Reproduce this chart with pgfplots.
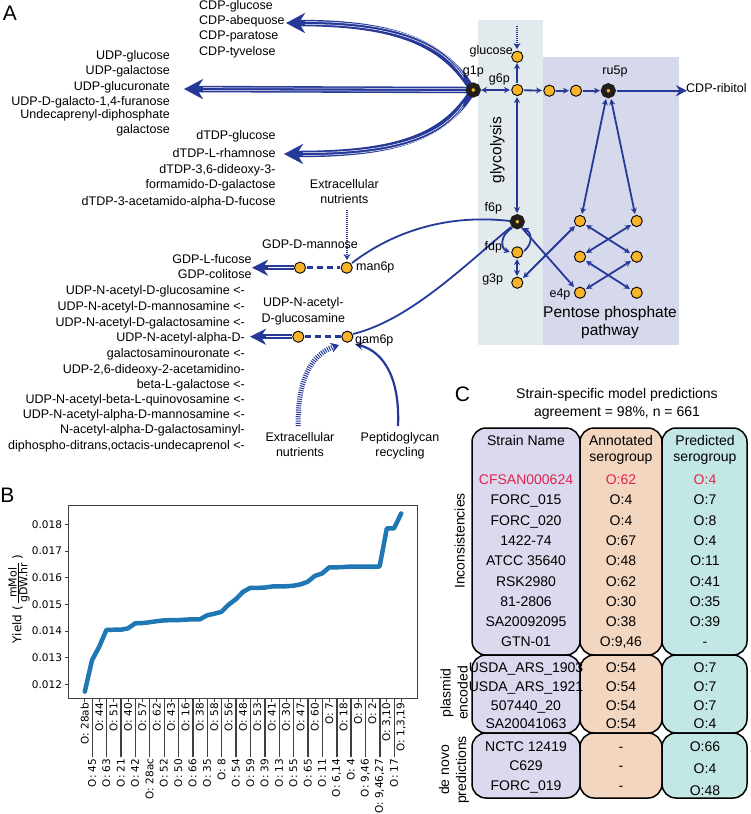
\documentclass[border=0pt]{standalone}
\usepackage{fontspec}
\setmainfont{Liberation Sans}
\newfontfamily\dv{DejaVu Sans}
\usepackage{pgfplots}
\pgfplotsset{compat=1.18}
\usetikzlibrary{arrows.meta}
\definecolor{ab}{RGB}{38,57,153}
\definecolor{ny}{RGB}{248,180,40}
\definecolor{ring}{RGB}{35,30,30}
\definecolor{glybg}{RGB}{227,234,238}
\definecolor{pppbg}{RGB}{214,216,236}
\definecolor{cs}{RGB}{218,217,238}
\definecolor{ca}{RGB}{243,214,191}
\definecolor{cp}{RGB}{195,231,229}
\definecolor{cred}{RGB}{224,36,78}
\definecolor{mplblue}{RGB}{31,119,180}
\newcommand{\fs}[1]{\fontsize{#1}{#1}\selectfont}
\begin{document}
\begin{tikzpicture}[
  sm/.style={ab, line width=1.8pt, -{Stealth[length=6pt,width=6pt]}},
  smd/.style={ab, line width=1.8pt, {Stealth[length=6pt,width=6pt]}-{Stealth[length=6pt,width=6pt]}},
  band/.style={ab, line width=6.5pt, -{Stealth[length=19pt,width=20pt]}},
  bandw/.style={white, line width=0.5pt, shorten >=19pt},
  t/.style={font=\fs{12.5}, inner sep=0pt, text height=9pt, text depth=2.6pt},
  tc/.style={font=\fs{14}, inner sep=0pt, text height=10pt, text depth=3pt},
]
\path[use as bounding box] (0,0) rectangle (750pt,-814pt);
\begin{axis}[at={(0pt,-814pt)}, anchor=south west, width=750pt, height=814pt, scale only axis,
  xmin=0, xmax=750, ymin=0, ymax=814, y dir=reverse, hide axis, clip=false]
% backgrounds
\fill[glybg] (478,20) rectangle (543,345);
\fill[pppbg] (543,57) rectangle (679,345);
% big bands
\draw[band] (470,86) .. controls (440,40) and (390,23) .. (286,23);
\draw[bandw, shorten <=12pt, yshift=1.4pt] (470,86) .. controls (440,40) and (390,23) .. (286,23);
\draw[bandw, shorten <=12pt, yshift=-1.4pt] (470,86) .. controls (440,40) and (390,23) .. (286,23);
\draw[band] (467,90) -- (184,89);
\draw[bandw, yshift=1.4pt] (467,90) -- (184,89);
\draw[bandw, yshift=-1.4pt] (467,90) -- (184,89);
\draw[band] (470,95) .. controls (440,140) and (390,154) .. (284,154);
\draw[bandw, shorten <=12pt, yshift=1.4pt] (470,95) .. controls (440,140) and (390,154) .. (284,154);
\draw[bandw, shorten <=12pt, yshift=-1.4pt] (470,95) .. controls (440,140) and (390,154) .. (284,154);
\draw[ab, line width=5pt, -{Stealth[length=16pt,width=16pt]}] (294,267.7) -- (252,267.7);
\draw[white, line width=0.5pt, shorten >=16pt] (294,267.7) -- (252,267.7);
\draw[ab, line width=5pt, -{Stealth[length=16pt,width=16pt]}] (292,336.7) -- (250,336.7);
\draw[white, line width=0.5pt, shorten >=16pt] (292,336.7) -- (250,336.7);
% small arrows
\draw[smd] (481,90) -- (510,90);
\draw[sm] (517,83) -- (517,63);
\draw[ab, line width=2.5pt, dash pattern=on 1pt off 1pt, -{Stealth[length=6pt,width=7pt]}] (517,26) -- (517,49);
\draw[sm] (524,90.3) -- (542,90.5);
\draw[sm] (556,90.7) -- (569,90.7);
\draw[sm] (583,90.7) -- (600,90.7);
\draw[ab, line width=2pt, -{Stealth[length=11pt,width=11pt]}] (617,90.7) -- (687,90.7);
\draw[smd] (517,97) -- (517,213);
\draw[sm] (512,228) .. controls (499,236) and (501,249) .. (510,252);
\draw[sm] (524,251) .. controls (533,244) and (532,233) .. (523,228);
\draw[smd] (517,259) -- (517,276);
\draw[smd] (575,226) -- (523,278);
\draw[sm] (522,228) -- (574,287);
\draw[smd] (606,99) -- (582,214);
\draw[smd] (611,99) -- (635,214);
\draw[smd] (586,225) -- (630,253);
\draw[smd] (631,225) -- (586,253);
\draw[smd] (586,261) -- (630,289);
\draw[smd] (631,261) -- (586,289);
\draw[ab, line width=1.8pt] (510,221) .. controls (450,214) and (395,230) .. (352,263);
\draw[ab, line width=1.8pt] (511,227) .. controls (465,265) and (410,320) .. (353,334);
\draw[ab, line width=2.5pt, dash pattern=on 6pt off 4pt] (307,267.7) -- (340,267.7);
\draw[ab, line width=2.5pt, dash pattern=on 6pt off 4pt] (305,336.7) -- (341,336.7);
\draw[ab, line width=2.5pt, dash pattern=on 1pt off 1pt, -{Stealth[length=6pt,width=7pt]}] (347,210) -- (347,260);
\draw[ab, line width=5pt, dash pattern=on 1pt off 1.2pt, -{Stealth[length=8pt,width=10pt]}] (298,426) .. controls (298,380) and (310,355) .. (339,345);
\draw[ab, line width=2.2pt, -{Stealth[length=8pt,width=8pt]}] (398,426) .. controls (400,380) and (385,352) .. (355,344);
% nodes
\addplot[only marks, mark=*, mark size=5.6pt, mark options={fill=ny, draw=black, line width=0.9pt}] coordinates {
(517.3,56.7) (517.3,90) (549.3,90.7) (576,90.7) (517.3,252.3) (517.3,282.7)
(580,221) (636.7,221) (580,256.7) (636.7,256.7) (580,292.7) (636.7,292.7)
(346.7,267.7) (300,267.7) (347.3,336.7) (298.3,336.7)};
\addplot[only marks, mark=*, mark size=4.8pt, mark options={fill=ny, draw=ring, line width=5.4pt}] coordinates {
(473.3,90) (608.3,90.7) (517.3,221.7)};
% labels A
\node[font=\fs{21}, inner sep=0pt] at (10,13) {A};
\node[font=\fs{21}, inner sep=0pt] at (7.5,495) {B};
\node[font=\fs{21}, inner sep=0pt] at (462.5,394) {C};
\node[t, anchor=west] at (199,6) {CDP-glucose};
\node[t, anchor=west] at (199,21.3) {CDP-abequose};
\node[t, anchor=west] at (199,36.7) {CDP-paratose};
\node[t, anchor=west] at (199,52) {CDP-tyvelose};
\node[t, anchor=east] at (170,56.7) {UDP-glucose};
\node[t, anchor=east] at (170,71.7) {UDP-galactose};
\node[t, anchor=east] at (170,87.3) {UDP-glucuronate};
\node[t, anchor=east] at (170,102.7) {UDP-D-galacto-1,4-furanose};
\node[t, anchor=east] at (170,115) {Undecaprenyl-diphosphate};
\node[t, anchor=east] at (170,130) {galactose};
\node[t, anchor=east] at (275.7,136.7) {dTDP-glucose};
\node[t, anchor=east] at (275.7,154) {dTDP-L-rhamnose};
\node[t, anchor=east] at (275.7,170) {dTDP-3,6-dideoxy-3-};
\node[t, anchor=east] at (275.7,185.7) {formamido-D-galactose};
\node[t, anchor=east] at (275.7,202.3) {dTDP-3-acetamido-alpha-D-fucose};
\node[t, anchor=east] at (251.7,260) {GDP-L-fucose};
\node[t, anchor=east] at (251.7,275) {GDP-colitose};
\node[t, anchor=east] at (245,291.7) {UDP-N-acetyl-D-glucosamine <-};
\node[t, anchor=east] at (245,307.7) {UDP-N-acetyl-D-mannosamine <-};
\node[t, anchor=east] at (245,323.3) {UDP-N-acetyl-D-galactosamine <-};
\node[t, anchor=east] at (245,338.3) {UDP-N-acetyl-alpha-D-};
\node[t, anchor=east] at (245,354) {galactosaminouronate <-};
\node[t, anchor=east] at (245,370) {UDP-2,6-dideoxy-2-acetamidino-};
\node[t, anchor=east] at (245,385) {beta-L-galactose <-};
\node[t, anchor=east] at (245,400.7) {UDP-N-acetyl-beta-L-quinovosamine <-};
\node[t, anchor=east] at (245,415.7) {UDP-N-acetyl-alpha-D-mannosamine <-};
\node[t, anchor=east] at (245,430.7) {N-acetyl-alpha-D-galactosaminyl-};
\node[t, anchor=east] at (245,446.7) {diphospho-ditrans,octacis-undecaprenol <-};
\node[t, anchor=east] at (513,51.7) {glucose};
\node[t] at (473.3,71.7) {g1p};
\node[t] at (499.3,79) {g6p};
\node[t] at (615,71) {ru5p};
\node[t, anchor=west] at (686,89.3) {CDP-ribitol};
\node[font=\fs{15.5}, inner sep=0pt, rotate=90] at (497.3,150) {glycolysis};
\node[t] at (493.3,208.3) {f6p};
\node[t] at (493.3,247.3) {fdp};
\node[t] at (492.7,279.3) {g3p};
\node[t] at (560,294) {e4p};
\node[font=\fs{15.5}, inner sep=0pt] at (610,313.3) {Pentose phosphate};
\node[font=\fs{15.5}, inner sep=0pt] at (610,331.7) {pathway};
\node[t] at (344.3,185) {Extracellular};
\node[t] at (344.3,200.7) {nutrients};
\node[t] at (310,245) {GDP-D-mannose};
\node[t, anchor=west] at (356,267.7) {man6p};
\node[t] at (303.3,303.3) {UDP-N-acetyl-};
\node[t] at (303.3,319) {D-glucosamine};
\node[t, anchor=west] at (355,340.7) {gam6p};
\node[t] at (300,438.3) {Extracellular};
\node[t] at (300,453.3) {nutrients};
\node[t] at (400,438.3) {Peptidoglycan};
\node[t] at (400,453.3) {recycling};
% panel B ylabel
\node[rotate=90, inner sep=0pt, font=\dv\fs{12}] at (19,599) {Yield (\,$\frac{\mbox{\dv\fs{11}mMol}}{\mbox{\dv\fs{11}gDW.hr}}$\,)};
% panel B long tick lines (pixel coords of reference)
\pgfplotsinvokeforeach{1,3,...,43}{\draw[black!75, line width=0.8pt] (85+7.2*#1,698) -- (85+7.2*#1,757);}
% panel C
\node[tc] at (617,395) {Strain-specific model predictions};
\node[tc] at (617,413) {agreement = 98\%, n = 661};
\draw[fill=cs, line width=1.5pt, rounded corners=14pt] (472,428) rectangle (580,655);
\draw[fill=ca, line width=1.5pt, rounded corners=14pt] (580,428) rectangle (662,655);
\draw[fill=cp, line width=1.5pt, rounded corners=14pt] (662,428) rectangle (747,655);
\draw[fill=cs, line width=1.5pt, rounded corners=14pt] (472,655) rectangle (580,733);
\draw[fill=ca, line width=1.5pt, rounded corners=14pt] (580,655) rectangle (662,733);
\draw[fill=cp, line width=1.5pt, rounded corners=14pt] (662,655) rectangle (747,733);
\draw[fill=cs, line width=1.5pt, rounded corners=14pt] (472,733) rectangle (580,798);
\draw[fill=ca, line width=1.5pt, rounded corners=14pt] (580,733) rectangle (662,798);
\draw[fill=cp, line width=1.5pt, rounded corners=14pt] (662,733) rectangle (747,798);
\node[tc, rotate=90] at (461,541) {Inconsistencies};
\node[font=\fs{14}, inner sep=0pt, rotate=90, align=center] at (454,693) {plasmid\\[3pt]encoded};
\node[font=\fs{14}, inner sep=0pt, rotate=90, align=center] at (454,770) {de novo\\[3pt]predictions};
\node[tc] at (526,441.7) {Strain Name};
\node[tc] at (621,441.7) {Annotated};
\node[tc] at (621,458) {serogroup};
\node[tc] at (705,441.7) {Predicted};
\node[tc] at (705,458) {serogroup};
\node[tc, text=cred] at (526,481) {CFSAN000624};
\node[tc, text=cred] at (621,481) {O:62};
\node[tc, text=cred] at (705,481) {O:4};
\node[tc] at (526,501.3) {FORC\_015};
\node[tc] at (621,501.3) {O:4};
\node[tc] at (705,501.3) {O:7};
\node[tc] at (526,521.6) {FORC\_020};
\node[tc] at (621,521.6) {O:4};
\node[tc] at (705,521.6) {O:8};
\node[tc] at (526,541.9) {1422-74};
\node[tc] at (621,541.9) {O:67};
\node[tc] at (705,541.9) {O:4};
\node[tc] at (526,562.2) {ATCC 35640};
\node[tc] at (621,562.2) {O:48};
\node[tc] at (705,562.2) {O:11};
\node[tc] at (526,582.5) {RSK2980};
\node[tc] at (621,582.5) {O:62};
\node[tc] at (705,582.5) {O:41};
\node[tc] at (526,602.8) {81-2806};
\node[tc] at (621,602.8) {O:30};
\node[tc] at (705,602.8) {O:35};
\node[tc] at (526,623.1) {SA20092095};
\node[tc] at (621,623.1) {O:38};
\node[tc] at (705,623.1) {O:39};
\node[tc] at (526,643.4) {GTN-01};
\node[tc] at (621,643.4) {O:9,46};
\node[tc] at (705,643.4) {-};
\node[tc] at (526,669) {USDA\_ARS\_1903};
\node[tc] at (621,669) {O:54};
\node[tc] at (705,669) {O:7};
\node[tc] at (526,688) {USDA\_ARS\_1921};
\node[tc] at (621,688) {O:54};
\node[tc] at (705,688) {O:7};
\node[tc] at (526,706.7) {507440\_20};
\node[tc] at (621,706.7) {O:54};
\node[tc] at (705,706.7) {O:7};
\node[tc] at (526,725) {SA20041063};
\node[tc] at (621,725) {O:54};
\node[tc] at (705,725) {O:4};
\node[tc] at (526,748) {NCTC 12419};
\node[tc] at (621,748) {-};
\node[tc] at (705,748) {O:66};
\node[tc] at (526,766.7) {C629};
\node[tc] at (621,766.7) {-};
\node[tc] at (705,770) {O:4};
\node[tc] at (526,786.7) {FORC\_019};
\node[tc] at (621,786.7) {-};
\node[tc] at (705,791.7) {O:48};
\end{axis}
% panel B
\begin{axis}[at={(69pt,-698pt)}, anchor=south west, width=348pt, height=192.3pt, scale only axis,
  xmin=-2.2, xmax=46.2, ymin=0.01149, ymax=0.0187,
  axis line style={draw=black!75, line width=1pt},
  tick align=outside, tick pos=left, major tick length=3.5pt,
  every tick/.style={black!75, line width=0.8pt},
  ytick={0.012,0.013,0.014,0.015,0.016,0.017,0.018},
  scaled y ticks=false,
  /pgf/number format/assume math mode=true,
  yticklabel style={/pgf/number format/.cd, fixed, fixed zerofill, precision=3, /tikz/.cd, font=\dv\fs{10.5}},
  xtick={0,2,...,44},
  xticklabels={{O: 28ab},{O: 44},{O: 51},{O: 40},{O: 57},{O: 62},{O: 43},{O: 16},{O: 38},{O: 58},{O: 56},{O: 48},{O: 53},{O: 41},{O: 30},{O: 47},{O: 60},{O: 7},{O: 18},{O: 9},{O: 2},{O: 3,10},{O: 1,3,19}},
  xticklabel style={rotate=90, anchor=east, font=\dv\fs{10.5}, inner sep=1.5pt},
  extra x ticks={1,3,...,43},
  extra x tick labels={{O: 45},{O: 63},{O: 21},{O: 42},{O: 28ac},{O: 52},{O: 50},{O: 66},{O: 35},{O: 8},{O: 54},{O: 59},{O: 39},{O: 13},{O: 55},{O: 65},{O: 11},{O: 6,14},{O: 4},{O: 9,46},{O: 9,46,27},{O: 17}},
  extra x tick style={major tick length=59pt},
]
\addplot[color=mplblue, line width=4.5pt, line join=round, line cap=round] coordinates {
(0,0.01173) (1,0.01291) (2,0.01341) (3,0.01404) (4,0.01405) (5,0.01405) (6,0.01410) (7,0.01429) (8,0.01430) (9,0.01433)
(10,0.01437) (11,0.01440) (12,0.01441) (13,0.01441) (14,0.01443) (15,0.01444) (16,0.01444) (17,0.01459) (18,0.01465) (19,0.01472)
(20,0.01499) (21,0.01519) (22,0.01547) (23,0.01562) (24,0.01562) (25,0.01563) (26,0.01567) (27,0.01568) (28,0.01568) (29,0.01570)
(30,0.01575) (31,0.01585) (32,0.01607) (33,0.01616) (34,0.01639) (35,0.01639) (36,0.01640) (37,0.01642) (38,0.01642) (39,0.01642)
(40,0.01642) (41,0.01642) (42,0.01785) (43,0.01785) (44,0.01841)};
\end{axis}
\end{tikzpicture}
\end{document}
